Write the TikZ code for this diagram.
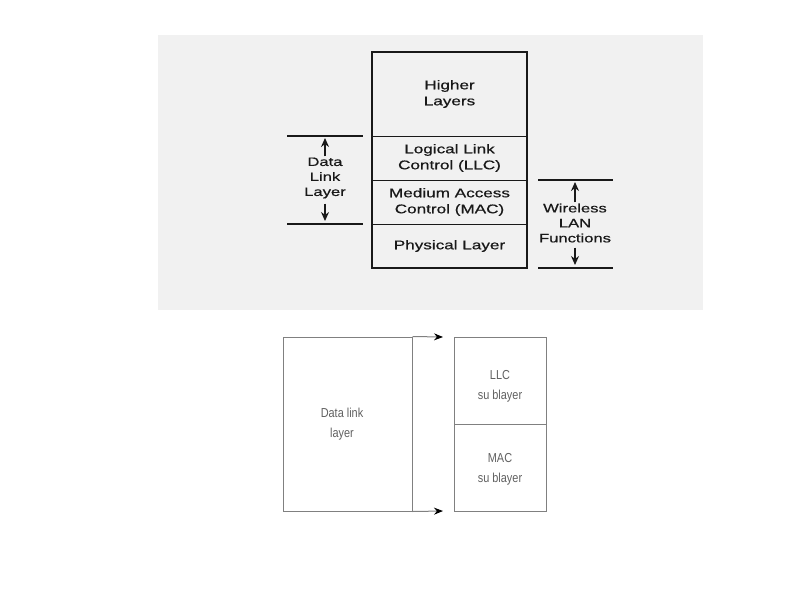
\documentclass[tikz,border=0pt]{standalone}
\usepackage{fontspec}
\setmainfont{Liberation Sans}
\newfontfamily\widef[FakeStretch=1.36,FakeBold=0.6]{Liberation Sans}
\newfontfamily\narrowf[FakeStretch=0.84]{Liberation Sans}
\usetikzlibrary{arrows.meta}
\definecolor{scanbg}{gray}{0.945}
\definecolor{ink}{gray}{0.1}
\definecolor{lightline}{gray}{0.5}
\definecolor{lighttext}{gray}{0.38}
\tikzset{
  layerbox/.style={draw=ink, line width=0.9pt, minimum width=155pt, inner sep=0pt,
    align=center, text=ink, font=\widef\fontsize{12.6}{16}\selectfont},
  sidetext/.style={align=center, inner sep=0pt, text=ink, font=\widef\fontsize{12.2}{15}\selectfont},
  bracketline/.style={draw=ink, line width=1.3pt},
  bracketarrow/.style={draw=ink, line width=1.4pt, -{Stealth[length=9pt,width=8pt]}},
  lowbox/.style={draw=lightline, line width=1pt, inner sep=0pt},
  lowtext/.style={inner sep=0pt, align=center, text=lighttext, font=\narrowf\fontsize{13}{20}\selectfont},
  lowarrow/.style={draw=lightline, line width=1pt, -{Stealth[length=9pt,width=7pt,color=black]}}
}
\begin{document}
\begin{tikzpicture}[x=1pt,y=-1pt]
\useasboundingbox (0,0) rectangle (794,595);
\fill[white] (0,0) rectangle (794,595);
% scanned background
\fill[scanbg] (158,35) rectangle (703,310);

% stack
\node[layerbox, minimum height=84pt] (hl) at (449.5,94) {Higher\\Layers};
\node[layerbox, minimum height=44pt] (llc) at (449.5,158) {Logical Link\\Control (LLC)};
\node[layerbox, minimum height=44pt] (mac) at (449.5,202) {Medium Access\\Control (MAC)};
\node[layerbox, minimum height=44pt] (phy) at (449.5,246) {Physical Layer};
\draw[draw=ink, line width=2pt] (hl.north west) rectangle (phy.south east);

% data link layer bracket
\coordinate (dlA) at (287,136);
\coordinate (dlB) at (363,136);
\coordinate (dlC) at (287,224);
\coordinate (dlD) at (363,224);
\draw[bracketline] (dlA) -- (dlB);
\draw[bracketline] (dlC) -- (dlD);
\node[sidetext] (dlt) at (325,178) {Data\\Link\\Layer};
\coordinate (dlUp) at (325,138);
\coordinate (dlDown) at (325,221);
\draw[bracketarrow] ([yshift=1pt]dlt.north) -- (dlUp);
\draw[bracketarrow] ([yshift=-5pt]dlt.south) -- (dlDown);

% wireless LAN bracket
\coordinate (wlA) at (538,180);
\coordinate (wlB) at (613,180);
\coordinate (wlC) at (538,268);
\coordinate (wlD) at (613,268);
\draw[bracketline] (wlA) -- (wlB);
\draw[bracketline] (wlC) -- (wlD);
\node[sidetext] (wlt) at (575,223) {Wireless\\LAN\\Functions};
\coordinate (wlUp) at (575,182);
\coordinate (wlDown) at (575,265);
\draw[bracketarrow] ([yshift=1pt]wlt.north) -- (wlUp);
\draw[bracketarrow] ([yshift=-5pt]wlt.south) -- (wlDown);

% lower figure
\node[lowbox, minimum width=129pt, minimum height=174pt] (dl) at (347.5,424) {};
\node[lowbox, minimum width=92pt, minimum height=87pt] (llcs) at (500,380.5) {};
\node[lowbox, minimum width=92pt, minimum height=87pt] (macs) at (500,467.5) {};
\node[lowtext] (dltx) at (342,424) {Data link\\layer};
\node[lowtext] (llctx) at (500,386) {LLC\\su blayer};
\node[lowtext] (mactx) at (500,469) {MAC\\su blayer};
\coordinate (arT) at (443,337);
\coordinate (arB) at (443,511);
\draw[lowarrow] (dl.north east) -- (arT);
\draw[lowarrow] (dl.south east) -- (arB);
\end{tikzpicture}
\end{document}
